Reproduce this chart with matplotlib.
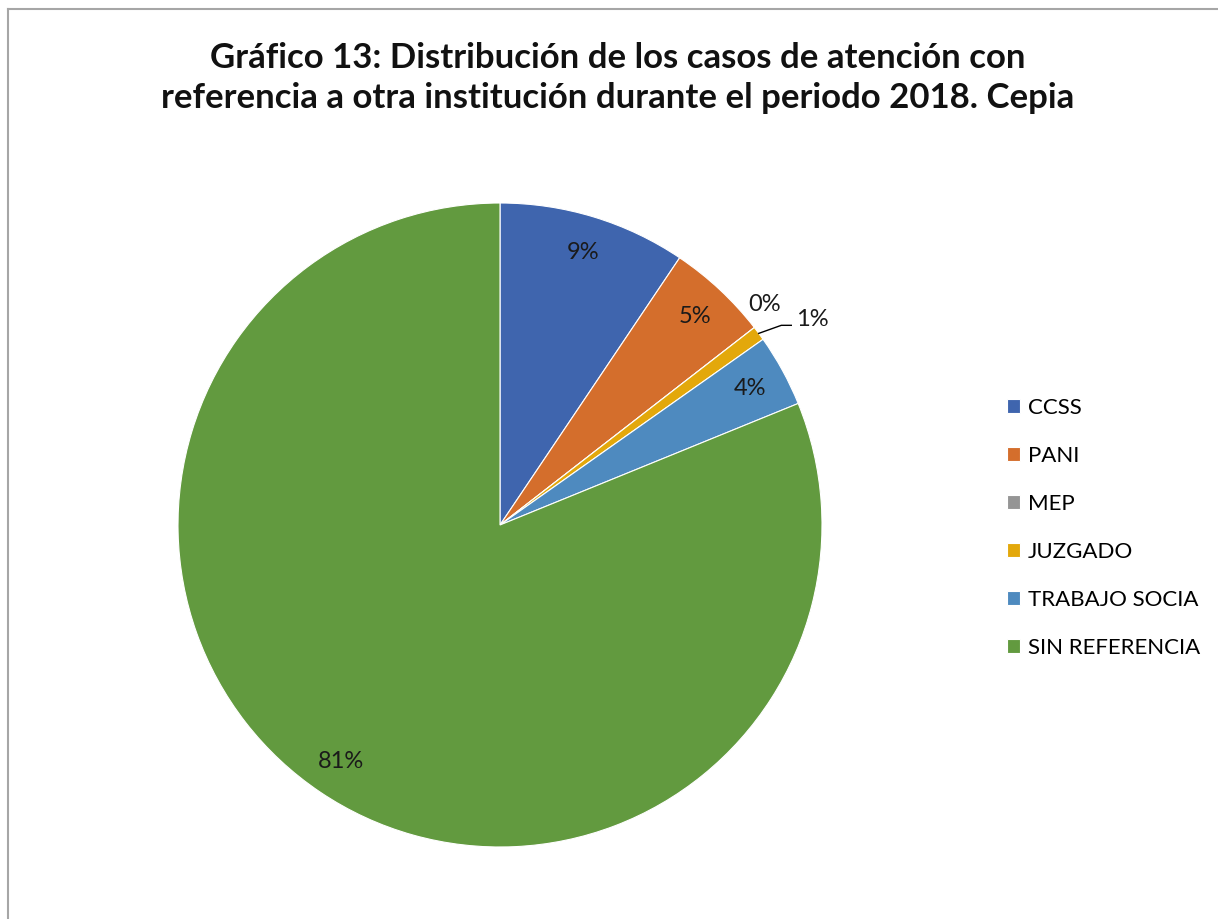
import numpy as np
import matplotlib
matplotlib.use("Agg")
import matplotlib.pyplot as plt
from matplotlib.lines import Line2D

categories = ["CCSS", "PANI", "MEP", "JUZGADO", "TRABAJO SOCIA", "SIN REFERENCIA"]
values = [13, 7, 0, 1, 5, 112]
labels_pct = ["9%", "5%", "0%", "1%", "4%", "81%"]
colors = ["#3F65AE", "#D46E2C", "#959595", "#E3A80B", "#4E8ABF", "#629A3F"]
title = "Gráfico 13: Distribución de los casos de atención con\nreferencia a otra institución durante el periodo 2018. Cepia"

W, H = 1218, 919
fig = plt.figure(figsize=(W / 100, H / 100), dpi=100)
fig.patch.set_facecolor("white")

# frame (left and top edges)
fig.add_artist(Line2D([8 / W, 8 / W], [0, 1 - 9 / H], color="#A6A6A6", lw=1.5, transform=fig.transFigure))
fig.add_artist(Line2D([8 / W, 1], [1 - 9 / H, 1 - 9 / H], color="#A6A6A6", lw=1.5, transform=fig.transFigure))

cx, cy, r = 500, 525, 322
ax = fig.add_axes([(cx - r) / W, (H - cy - r) / H, 2 * r / W, 2 * r / H])
wedges, _ = ax.pie(values, colors=colors, startangle=90, counterclock=False,
                   radius=1, wedgeprops=dict(edgecolor="white", linewidth=0.8))
ax.set_xlim(-1, 1)
ax.set_ylim(-1, 1)
ax.set_aspect("equal")
ax.axis("off")

fnt = "Lato"
lsize = 17
tcol = "#1a1a1a"
for i, w in enumerate(wedges):
    mid = np.deg2rad((w.theta1 + w.theta2) / 2)
    if categories[i] == "MEP":
        d = 1.07
        a = mid + np.deg2rad(2)
        ax.text(d * np.cos(a), d * np.sin(a), labels_pct[i], ha="center", va="center",
                fontsize=lsize, family=fnt, color=tcol)
    elif categories[i] == "JUZGADO":
        ex, ey = np.cos(mid), np.sin(mid)
        kx, ky = ex + 0.07, ey + 0.025
        ax.plot([ex, kx, kx + 0.031], [ey, ky, ky], color="black", lw=1, clip_on=False)
        ax.text(kx + 0.047, ky + 0.019, labels_pct[i], ha="left", va="center",
                fontsize=lsize, family=fnt, color=tcol)
    else:
        d = 0.885
        ax.text(d * np.cos(mid), d * np.sin(mid), labels_pct[i], ha="center", va="center",
                fontsize=lsize, family=fnt, color=tcol)

fig.text(618 / W, 1 - 78 / H, title, ha="center", va="center", fontsize=25, fontweight="bold",
         family=fnt, linespacing=1.3, color="#111111")

fig.legend(wedges, categories, loc="upper left", bbox_to_anchor=(1007 / W, 1 - 398 / H),
           frameon=False, prop=dict(family=fnt, size=16), handlelength=0.6, handleheight=0.6,
           handletextpad=0.35, labelspacing=1.26, borderpad=0, borderaxespad=0)

fig.savefig("out.png", dpi=100)
